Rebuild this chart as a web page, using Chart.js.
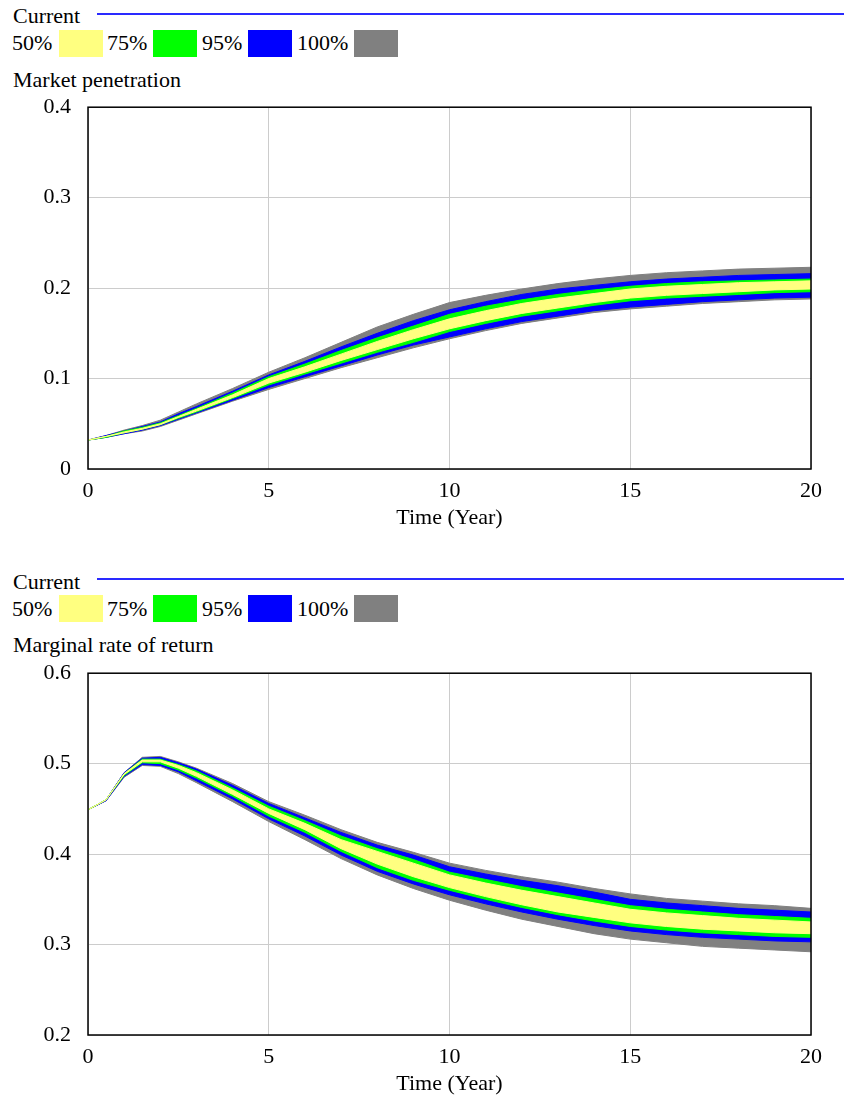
<!DOCTYPE html>
<html lang="en">
<head>
  <meta charset="UTF-8">
  <title>Sensitivity graphs</title>
  <script src="https://cdn.jsdelivr.net/npm/chart.js@4.4.2/dist/chart.umd.min.js"></script>
  <style>
    body{
      margin: 0;
      background: white;
      width: 844px;
      height: 1096px;
      position: relative;
      font-family: "Liberation Serif", "Times New Roman", serif;
      color: black;
      overflow: hidden;
    }
    .panel{ position: absolute; left: 0; width: 844px; height: 560px; }
    .txt{ position: absolute; font-size: 22px; line-height: 22px; white-space: nowrap; }
    .curline{ position: absolute; left: 97px; width: 747px; height: 1.5px; background: #2a2aff; }
    .sw{ position: absolute; height: 27px; width: 44px; }
    canvas{ position: absolute; left: 0; top: 77px; }
  </style>
</head>
<body>
  <div class="panel" style="top:0px">
    <div class="txt" style="left:13px;top:5px">Current</div>
    <div class="curline" style="top:13px"></div>
    <div class="txt" style="left:12px;top:32px">50%</div>
    <div class="sw" style="left:59px;top:30px;background:#ffff80"></div>
    <div class="txt" style="left:107px;top:32px">75%</div>
    <div class="sw" style="left:153px;top:30px;background:#00ff00"></div>
    <div class="txt" style="left:202px;top:32px">95%</div>
    <div class="sw" style="left:248px;top:30px;background:#0000ff"></div>
    <div class="txt" style="left:297px;top:32px">100%</div>
    <div class="sw" style="left:354px;top:30px;background:#808080"></div>
    <div class="txt" style="left:13px;top:69px">Market penetration</div>
    <canvas id="chart1" width="844" height="458"></canvas>
  </div>
  <div class="panel" style="top:566px">
    <div class="txt" style="left:13px;top:5px">Current</div>
    <div class="curline" style="top:12px"></div>
    <div class="txt" style="left:12px;top:32px">50%</div>
    <div class="sw" style="left:59px;top:29px;background:#ffff80"></div>
    <div class="txt" style="left:107px;top:32px">75%</div>
    <div class="sw" style="left:153px;top:29px;background:#00ff00"></div>
    <div class="txt" style="left:202px;top:32px">95%</div>
    <div class="sw" style="left:248px;top:29px;background:#0000ff"></div>
    <div class="txt" style="left:297px;top:32px">100%</div>
    <div class="sw" style="left:354px;top:29px;background:#808080"></div>
    <div class="txt" style="left:13px;top:68px">Marginal rate of return</div>
    <canvas id="chart2" width="844" height="458"></canvas>
  </div>

  <script>
    // time points (years)
    const time = [0, 0.5, 1, 1.5, 2, 2.5, 3, 4, 5, 6, 7, 8, 9, 10, 11, 12, 13, 14, 15, 16, 17, 18, 19, 20];
    const xTicks = [0, 5, 10, 15, 20];

    // Market penetration: confidence band edges
    const penGrayLo   = [0.032, 0.035, 0.039, 0.042, 0.047, 0.054, 0.061, 0.075, 0.088, 0.100, 0.112, 0.123, 0.134, 0.144, 0.153, 0.161, 0.167, 0.173, 0.177, 0.180, 0.183, 0.185, 0.187, 0.188];
    const penBlueLo   = [0.032, 0.035, 0.039, 0.043, 0.048, 0.055, 0.062, 0.076, 0.090, 0.102, 0.114, 0.126, 0.137, 0.146, 0.155, 0.163, 0.169, 0.175, 0.179, 0.182, 0.185, 0.187, 0.189, 0.190];
    const penGreenLo  = [0.032, 0.035, 0.040, 0.044, 0.049, 0.056, 0.063, 0.078, 0.093, 0.105, 0.117, 0.129, 0.140, 0.152, 0.161, 0.169, 0.175, 0.181, 0.186, 0.189, 0.191, 0.193, 0.195, 0.196];
    const penYellowLo = [0.032, 0.036, 0.040, 0.044, 0.049, 0.057, 0.064, 0.079, 0.095, 0.107, 0.120, 0.132, 0.144, 0.155, 0.164, 0.172, 0.178, 0.184, 0.189, 0.192, 0.194, 0.196, 0.198, 0.199];
    const penYellowHi = [0.032, 0.036, 0.041, 0.045, 0.050, 0.058, 0.066, 0.082, 0.100, 0.113, 0.127, 0.141, 0.154, 0.166, 0.175, 0.183, 0.189, 0.194, 0.199, 0.202, 0.204, 0.206, 0.207, 0.208];
    const penGreenHi  = [0.032, 0.036, 0.042, 0.046, 0.051, 0.059, 0.067, 0.084, 0.102, 0.116, 0.131, 0.145, 0.158, 0.171, 0.180, 0.187, 0.193, 0.198, 0.202, 0.205, 0.207, 0.208, 0.209, 0.210];
    const penBlueHi   = [0.032, 0.037, 0.042, 0.047, 0.052, 0.061, 0.069, 0.086, 0.104, 0.119, 0.135, 0.150, 0.164, 0.176, 0.185, 0.193, 0.199, 0.203, 0.207, 0.210, 0.212, 0.214, 0.215, 0.216];
    const penGrayHi   = [0.032, 0.037, 0.043, 0.048, 0.054, 0.063, 0.072, 0.089, 0.107, 0.123, 0.140, 0.157, 0.171, 0.184, 0.192, 0.199, 0.205, 0.210, 0.214, 0.217, 0.219, 0.221, 0.222, 0.223];
    const penTicks = [0, 0.1, 0.2, 0.3, 0.4];

    // Marginal rate of return: confidence band edges
    const retGrayLo   = [0.449, 0.459, 0.485, 0.498, 0.497, 0.489, 0.479, 0.458, 0.436, 0.416, 0.395, 0.377, 0.362, 0.349, 0.338, 0.328, 0.320, 0.312, 0.306, 0.302, 0.298, 0.296, 0.294, 0.292];
    const retBlueLo   = [0.449, 0.459, 0.486, 0.499, 0.498, 0.491, 0.481, 0.461, 0.439, 0.420, 0.399, 0.381, 0.367, 0.355, 0.345, 0.336, 0.328, 0.321, 0.315, 0.311, 0.308, 0.306, 0.304, 0.303];
    const retGreenLo  = [0.449, 0.460, 0.487, 0.501, 0.500, 0.493, 0.484, 0.464, 0.442, 0.424, 0.403, 0.385, 0.371, 0.360, 0.350, 0.341, 0.333, 0.326, 0.320, 0.316, 0.313, 0.311, 0.309, 0.308];
    const retYellowLo = [0.449, 0.460, 0.488, 0.502, 0.502, 0.495, 0.486, 0.466, 0.445, 0.427, 0.406, 0.389, 0.375, 0.363, 0.353, 0.344, 0.336, 0.330, 0.324, 0.320, 0.317, 0.315, 0.313, 0.312];
    const retYellowHi = [0.449, 0.460, 0.489, 0.504, 0.504, 0.498, 0.490, 0.471, 0.450, 0.434, 0.416, 0.403, 0.390, 0.377, 0.368, 0.360, 0.353, 0.346, 0.339, 0.335, 0.332, 0.329, 0.327, 0.325];
    const retGreenHi  = [0.449, 0.460, 0.489, 0.505, 0.505, 0.499, 0.492, 0.473, 0.453, 0.437, 0.420, 0.406, 0.394, 0.380, 0.372, 0.364, 0.357, 0.350, 0.343, 0.339, 0.336, 0.333, 0.331, 0.329];
    const retBlueHi   = [0.449, 0.460, 0.490, 0.506, 0.507, 0.501, 0.494, 0.476, 0.456, 0.440, 0.424, 0.410, 0.399, 0.386, 0.378, 0.371, 0.365, 0.358, 0.350, 0.346, 0.343, 0.340, 0.338, 0.336];
    const retGrayHi   = [0.449, 0.460, 0.490, 0.507, 0.508, 0.502, 0.495, 0.478, 0.458, 0.443, 0.427, 0.413, 0.402, 0.390, 0.382, 0.375, 0.369, 0.362, 0.356, 0.351, 0.348, 0.345, 0.343, 0.340];
    const retTicks = [0.2, 0.3, 0.4, 0.5, 0.6];

    const YELLOW = '#ffff80', GREEN = '#00ff00', BLUE = '#0000ff', GRAY = '#808080';
    const FONT = '"Liberation Serif", "Times New Roman", serif';

    function pts(arr) {
      return arr.map((v, i) => ({ x: time[i], y: v }));
    }

    // two datasets per band: upper one fills down to the next (lower) one
    function band(lo, hi, color) {
      return [
        { data: pts(hi), borderColor: color, backgroundColor: color, borderWidth: 1, pointRadius: 0, fill: '+1' },
        { data: pts(lo), borderColor: color, backgroundColor: color, borderWidth: 1, pointRadius: 0, fill: false }
      ];
    }

    // black box round the plot area
    const frame = {
      id: 'frame',
      afterDatasetsDraw(chart) {
        const a = chart.chartArea, ctx = chart.ctx;
        ctx.save();
        ctx.strokeStyle = 'black';
        ctx.lineWidth = 1.5;
        ctx.strokeRect(a.left, a.top, a.right - a.left, a.bottom - a.top);
        ctx.restore();
      }
    };

    function makeChart(id, bands, yTicks) {
      const ctx = document.getElementById(id).getContext('2d');
      return new Chart(ctx, {
        type: 'line',
        data: { datasets: bands },
        options: {
          responsive: false,
          animation: false,
          layout: { padding: { top: 12, right: 33, left: 0, bottom: 0 } },
          plugins: { legend: { display: false }, tooltip: { enabled: false } },
          scales: {
            x: {
              type: 'linear',
              min: xTicks[0],
              max: xTicks[xTicks.length - 1],
              afterBuildTicks: s => { s.ticks = xTicks.map(v => ({ value: v })); },
              afterFit: s => { s.height = 66; },
              grid: { color: '#cccccc', lineWidth: 1, drawTicks: false },
              border: { display: false },
              ticks: { color: 'black', padding: 9, maxRotation: 0, font: { family: FONT, size: 22 } },
              title: { display: true, text: 'Time (Year)', color: 'black', padding: { top: 2 }, font: { family: FONT, size: 22 } }
            },
            y: {
              min: yTicks[0],
              max: yTicks[yTicks.length - 1],
              afterBuildTicks: s => { s.ticks = yTicks.map(v => ({ value: v })); },
              afterFit: s => { s.width = 88; },
              grid: { color: '#cccccc', lineWidth: 1, drawTicks: false },
              border: { display: false },
              ticks: {
                color: 'black', padding: 17, font: { family: FONT, size: 22 },
                callback: v => String(Number(v.toFixed(1)))
              }
            }
          }
        },
        plugins: [frame]
      });
    }

    makeChart('chart1', [
      ...band(penYellowLo, penYellowHi, YELLOW),
      ...band(penGreenLo, penGreenHi, GREEN),
      ...band(penBlueLo, penBlueHi, BLUE),
      ...band(penGrayLo, penGrayHi, GRAY)
    ], penTicks);

    makeChart('chart2', [
      ...band(retYellowLo, retYellowHi, YELLOW),
      ...band(retGreenLo, retGreenHi, GREEN),
      ...band(retBlueLo, retBlueHi, BLUE),
      ...band(retGrayLo, retGrayHi, GRAY)
    ], retTicks);
  </script>
</body>
</html>
